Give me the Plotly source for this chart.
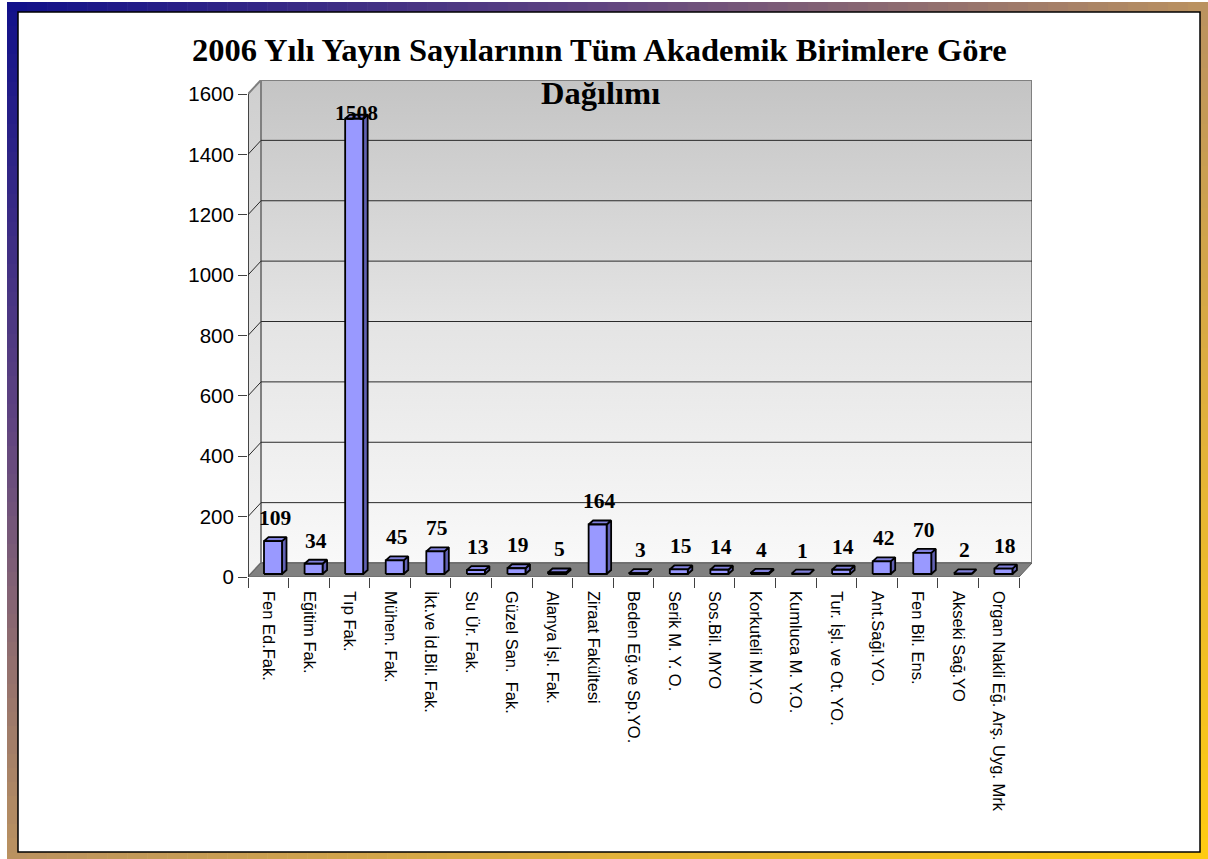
import plotly.graph_objects as go

# data
birimler = ["Fen Ed.Fak.", "Eğitim Fak.", "Tıp Fak.", "Mühen. Fak.", "İkt.ve İd.Bil. Fak.",
            "Su Ür. Fak.", "Güzel San.\u00a0 Fak.", "Alanya İşl. Fak.", "Ziraat Fakültesi",
            "Beden Eğ.ve Sp.YO.", "Serik M. Y. O.", "Sos.Bil. MYO", "Korkuteli M.Y.O",
            "Kumluca M. Y.O.", "Tur. İşl. ve Ot. YO.", "Ant.Sağl.YO.", "Fen Bil. Ens.",
            "Akseki Sağ.YO", "Organ Nakli Eğ. Arş. Uyg. Mrk"]
yayin = [109, 34, 1508, 45, 75, 13, 19, 5, 164, 3, 15, 14, 4, 1, 14, 42, 70, 2, 18]
y_ticks = [0, 200, 400, 600, 800, 1000, 1200, 1400, 1600]

W, H = 1208, 859

# geometry of the fake 3d box, in pixels
px_left, px_front_right, px_right = 248, 1019, 1032
py_zero, py_top, py_max_tick = 577, 80, 94

n = len(birimler)
xs = (px_front_right - px_left) / n          # px per category
ys = (py_zero - py_max_tick) / y_ticks[-1]   # px per unit
dx = (px_right - px_front_right) / xs        # depth of the box in data units
dy = 14 / ys
x_lo = -0.5
x_hi = x_lo + (px_right - px_left) / xs
y_hi = (py_zero - py_top) / ys

fig = go.Figure()


def poly(xv, yv, fill, line_color, width, grad=None):
    kw = dict(x=xv, y=yv, mode="lines", fill="toself", fillcolor=fill,
              line=dict(color=line_color, width=width), hoverinfo="skip", showlegend=False)
    if grad:
        kw["fillgradient"] = dict(type="vertical", colorscale=grad)
    fig.add_trace(go.Scatter(**kw))


x_end = n - 0.5
# back wall
poly([x_lo + dx, x_end + dx, x_end + dx, x_lo + dx, x_lo + dx],
     [dy, dy, y_ticks[-1] + dy, y_ticks[-1] + dy, dy],
     "#dcdcdc", "#808080", 2, [[0, "#f9f9f9"], [0.5, "#e4e4e4"], [1, "#c4c4c4"]])
# left wall
poly([x_lo, x_lo, x_lo + dx, x_lo + dx, x_lo],
     [0, y_ticks[-1], y_ticks[-1] + dy, dy, 0],
     "#e0e0e0", "#808080", 2, [[0, "#f4f4f4"], [1, "#cfcfcf"]])
# floor
poly([x_lo, x_end, x_end + dx, x_lo + dx, x_lo], [0, 0, dy, dy, 0], "#808080", "#606060", 1)
fig.add_trace(go.Scatter(x=[x_lo, x_lo], y=[0, y_ticks[-1]], mode="lines",
                         line=dict(color="#303030", width=1.5), hoverinfo="skip", showlegend=False))

# grid lines on back wall + connectors on side wall
gx, gy = [], []
for v in y_ticks[1:-1]:
    gx += [x_lo, x_lo + dx, x_end + dx, None]
    gy += [v, v + dy, v + dy, None]
fig.add_trace(go.Scatter(x=gx, y=gy, mode="lines", line=dict(color="#2a2a2a", width=1),
                         hoverinfo="skip", showlegend=False))

# bars
off = 16 / xs
bw = 18 / xs
bdx = 4.5 / xs
bdy = 4 / ys
base = 3 / ys
fx, fy, sx, sy, tx, ty = [], [], [], [], [], []
for i, v in enumerate(yayin):
    x0 = i - 0.5 + off
    x1 = x0 + bw
    t = base + v
    fx += [x0, x1, x1, x0, x0, None]
    fy += [base, base, t, t, base, None]
    sx += [x1, x1 + bdx, x1 + bdx, x1, x1, None]
    sy += [base, base + bdy, t + bdy, t, base, None]
    tx += [x0, x1, x1 + bdx, x0 + bdx, x0, None]
    ty += [t, t, t + bdy, t + bdy, t, None]
poly(sx, sy, "#6262b4", "black", 1.8)
poly(tx, ty, "#8080dc", "black", 1.8)
poly(fx, fy, "#9999ff", "black", 1.8)

# value labels
annots = []
for i, v in enumerate(yayin):
    top = base + v
    shift = 23 if top + 30 / ys < y_ticks[-1] else 6
    annots.append(dict(x=i - 0.5 + off + bw / 2 + 2 / xs, y=top, xref="x", yref="y",
                       text="<b>%d</b>" % v, showarrow=False, yanchor="middle", yshift=shift,
                       font=dict(family="Times New Roman, Liberation Serif", size=21.5, color="black")))

# title (two lines, placed like the original)
title_font = dict(family="Times New Roman, Liberation Serif", size=32.5, color="black")
annots.append(dict(x=599 / W, y=1 - 50 / H, xref="paper", yref="paper", showarrow=False,
                   text="<b>2006 Yılı Yayın Sayılarının Tüm Akademik Birimlere Göre</b>",
                   font=title_font, yanchor="middle"))
annots.append(dict(x=600 / W, y=1 - 93 / H, xref="paper", yref="paper", showarrow=False,
                   text="<b>Dağılımı</b>", font=title_font, yanchor="middle"))

# gradient frame around the slide
stops = [(0, (16, 16, 138)), (0.25, (96, 68, 128)), (0.5, (186, 146, 96)),
         (0.75, (226, 178, 58)), (1, (255, 204, 16))]


def frame_color(t):
    for (a, ca), (b, cb) in zip(stops[:-1], stops[1:]):
        if t <= b:
            f = (t - a) / (b - a)
            return "rgb(%d,%d,%d)" % tuple(round(ca[k] + (cb[k] - ca[k]) * f) for k in range(3))
    return "rgb(255,204,16)"


fx0, fy0, fx1, fy1 = 7, 2, 1208, 859
ix0, iy0, ix1, iy1 = 18, 12, 1200, 852
strips = [(fx0, fy0, fx1, iy0, "h"), (fx0, iy1, fx1, fy1, "h"),
          (fx0, iy0, ix0, iy1, "v"), (ix1, iy0, fx1, iy1, "v")]
shapes = []
N = 60
for a0, b0, a1, b1, d in strips:
    for k in range(N):
        if d == "h":
            s0, s1 = a0 + (a1 - a0) * k / N, a0 + (a1 - a0) * (k + 1) / N
            r = (s0, b0, s1 + 0.6, b1)
        else:
            s0, s1 = b0 + (b1 - b0) * k / N, b0 + (b1 - b0) * (k + 1) / N
            r = (a0, s0, a1, s1 + 0.6)
        cx, cy = (r[0] + r[2]) / 2, (r[1] + r[3]) / 2
        t = ((cx - fx0) / (fx1 - fx0) + (cy - fy0) / (fy1 - fy0)) / 2
        shapes.append(dict(type="rect", xref="paper", yref="paper", layer="below",
                           x0=r[0] / W, x1=r[2] / W, y0=1 - r[1] / H, y1=1 - r[3] / H,
                           fillcolor=frame_color(t), line=dict(width=0)))
shapes.append(dict(type="rect", xref="paper", yref="paper", layer="below",
                   x0=ix0 / W, x1=ix1 / W, y0=1 - iy0 / H, y1=1 - iy1 / H,
                   fillcolor="white", line=dict(color="black", width=1.5)))

fig.update_layout(
    width=W, height=H, autosize=False,
    margin=dict(l=0, r=0, t=0, b=0),
    paper_bgcolor="white", plot_bgcolor="rgba(0,0,0,0)",
    showlegend=False,
    shapes=shapes,
    annotations=annots,
    xaxis=dict(domain=[px_left / W, px_right / W], range=[x_lo, x_hi],
               tickvals=list(range(n)), ticktext=birimler, tickangle=90, ticks="",
               showgrid=False, zeroline=False, showline=False, automargin=False,
               ticklabelstandoff=13,
               tickfont=dict(family="Arial, Liberation Sans", size=16.5, color="black"),
               minor=dict(tickvals=[i - 0.5 for i in range(n + 1)], ticks="outside",
                          ticklen=10, tickcolor="#404040", tickwidth=1, showgrid=False)),
    yaxis=dict(domain=[1 - py_zero / H, 1 - py_top / H], range=[0, y_hi],
               tickvals=y_ticks, ticks="outside", ticklen=9, tickcolor="#404040",
               showgrid=False, zeroline=False, showline=False, automargin=False,
               tickfont=dict(family="Arial, Liberation Sans", size=20.5, color="black")),
)

fig.write_html("out.html", config={"displayModeBar": False},
               post_script="document.body.style.margin='0';document.body.style.overflow='hidden';")
